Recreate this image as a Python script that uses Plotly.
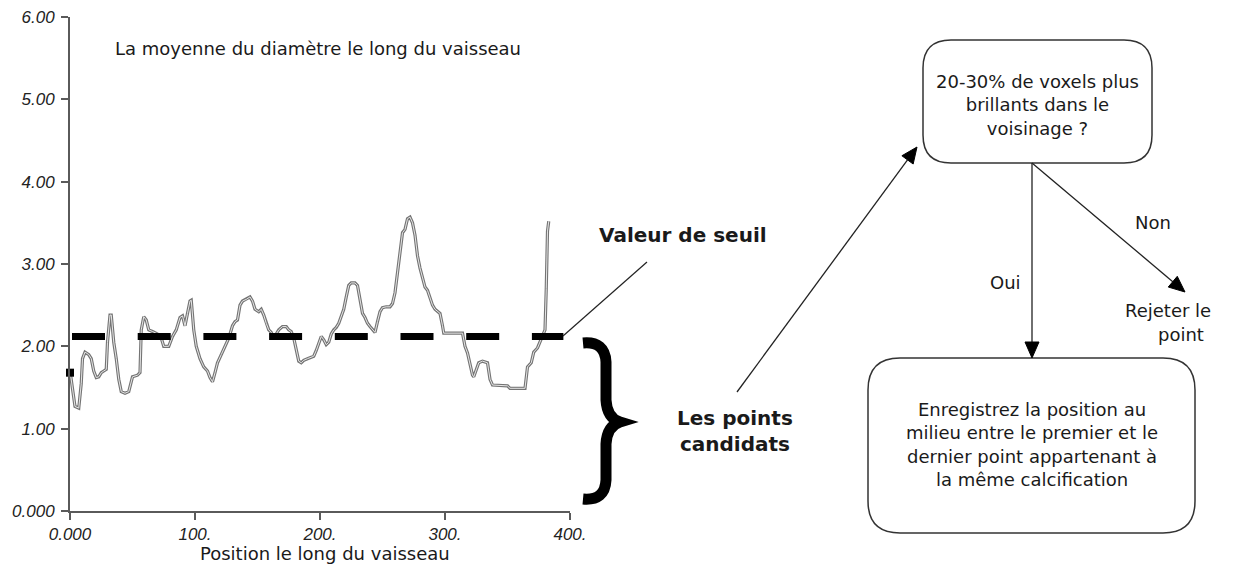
import plotly.graph_objects as go

# ---------------- data ----------------
position = [0, 2, 4, 7, 9, 10, 12, 15, 17, 19, 21, 23, 25, 27, 29, 30, 32, 33, 35, 37,
            39, 41, 44, 47, 49, 50, 54, 56, 57, 59, 61, 63, 66, 70, 73, 75, 79, 82, 85, 88,
            90, 92, 94, 96, 97, 99, 101, 104, 107, 110, 112, 114, 116, 118, 121, 124, 127, 130, 132, 134,
            136, 138, 141, 144, 146, 148, 151, 153, 155, 157, 159, 161, 163, 165, 167, 170, 173, 175, 177, 179,
            181, 183, 185, 187, 190, 193, 195, 197, 199, 201, 203, 205, 207, 209, 211, 213, 215, 217, 219, 221,
            223, 225, 228, 230, 232, 234, 236, 238, 240, 242, 244, 246, 248, 250, 253, 256, 258, 260, 262, 264,
            266, 268, 270, 272, 274, 276, 278, 280, 282, 284, 286, 288, 290, 292, 294, 296, 298, 299, 314, 316,
            318, 320, 322, 323, 325, 327, 330, 334, 336, 338, 350, 352, 364, 366, 369, 371, 374, 376, 378, 380,
            381, 382, 383]
diameter = [1.70, 1.50, 1.27, 1.25, 1.55, 1.85, 1.93, 1.90, 1.85, 1.70, 1.62, 1.63, 1.68, 1.70, 1.72, 2.05, 2.38, 2.38, 2.05, 1.85,
            1.60, 1.45, 1.43, 1.45, 1.55, 1.63, 1.65, 1.68, 2.20, 2.36, 2.32, 2.20, 2.18, 2.15, 2.10, 2.00, 2.00, 2.12, 2.20, 2.35,
            2.37, 2.25, 2.40, 2.55, 2.56, 2.20, 2.00, 1.85, 1.75, 1.70, 1.62, 1.57, 1.68, 1.80, 1.90, 2.00, 2.10, 2.25, 2.30, 2.32,
            2.50, 2.55, 2.57, 2.60, 2.55, 2.45, 2.42, 2.45, 2.38, 2.28, 2.20, 2.17, 2.10, 2.15, 2.20, 2.24, 2.24, 2.20, 2.18, 2.10,
            1.95, 1.82, 1.80, 1.83, 1.85, 1.87, 1.88, 1.95, 2.05, 2.12, 2.08, 2.02, 2.05, 2.15, 2.20, 2.23, 2.28, 2.38, 2.45, 2.60,
            2.74, 2.77, 2.77, 2.74, 2.55, 2.40, 2.35, 2.28, 2.24, 2.20, 2.17, 2.30, 2.42, 2.47, 2.48, 2.48, 2.52, 2.65, 2.90, 3.15,
            3.38, 3.42, 3.55, 3.57, 3.50, 3.35, 3.10, 2.95, 2.85, 2.72, 2.68, 2.60, 2.50, 2.45, 2.42, 2.40, 2.25, 2.16, 2.16, 2.00,
            1.92, 1.80, 1.65, 1.63, 1.72, 1.80, 1.82, 1.80, 1.60, 1.53, 1.52, 1.49, 1.49, 1.75, 1.80, 1.93, 1.98, 2.05, 2.12, 2.20,
            2.70, 3.40, 3.52]
start_point = [0, 1.68]
threshold_value = 2.12
threshold_span = [1.6, 394.7]

x_tick_values = [0, 100, 200, 300, 400]
x_tick_labels = ["0.000", "100.", "200.", "300.", "400."]
y_tick_values = [0, 1, 2, 3, 4, 5, 6]
y_tick_labels = ["0.000", "1.00", "2.00", "3.00", "4.00", "5.00", "6.00"]

chart_title = "La moyenne du diamètre le long du vaisseau"
x_title = "Position le long du vaisseau"
threshold_label = "Valeur de seuil"
candidates_label = "Les points<br>candidats"
question_text = "20-30% de voxels plus<br>brillants dans le<br>voisinage ?"
yes_text = "Oui"
no_text = "Non"
reject_lines = ["Rejeter le", "point"]
record_text = "Enregistrez la position au<br>milieu entre le premier et le<br>dernier point appartenant à<br>la même calcification"

# ---------------- layout geometry (pixels) ----------------
W, H = 1239, 566
PL, PR, PT, PB = 70, 570, 17, 511
TXT = "DejaVu Sans"
INK = "#1a1a1a"

fig = go.Figure()

# series: grey outlined line
fig.add_trace(go.Scatter(x=position, y=diameter, mode="lines",
                         line=dict(color="#747474", width=3.2), hoverinfo="skip", showlegend=False))
fig.add_trace(go.Scatter(x=position, y=diameter, mode="lines",
                         line=dict(color="#e6e6e6", width=1.0), hoverinfo="skip", showlegend=False))
# threshold dashed line
fig.add_trace(go.Scatter(x=threshold_span, y=[threshold_value, threshold_value], mode="lines",
                         line=dict(color="black", width=7, dash="33px,32.7px"),
                         hoverinfo="skip", showlegend=False))
# starting marker
fig.add_trace(go.Scatter(x=[start_point[0]], y=[start_point[1]], mode="markers",
                         marker=dict(symbol="square", size=8, color="black"),
                         cliponaxis=False, hoverinfo="skip", showlegend=False))
# dummy trace on pixel overlay axes
fig.add_trace(go.Scatter(x=[0], y=[0], xaxis="x2", yaxis="y2", mode="markers",
                         marker=dict(opacity=0), hoverinfo="skip", showlegend=False))

axis_common = dict(showline=True, linecolor="#5a5a5a", linewidth=2, ticks="outside", ticklen=7,
                   tickwidth=2, tickcolor="#5a5a5a", showgrid=False, zeroline=False, automargin=False,
                   tickfont=dict(family="Liberation Sans", size=17, color="#222", style="italic"))

fig.update_layout(
    template="none",
    width=W, height=H, margin=dict(l=0, r=0, t=0, b=0, autoexpand=False),
    paper_bgcolor="white", plot_bgcolor="rgba(0,0,0,0)",
    xaxis=dict(domain=[PL / W, PR / W], range=[0, 400], tickvals=x_tick_values, ticktext=x_tick_labels,
               anchor="y", **axis_common),
    yaxis=dict(domain=[1 - PB / H, 1 - PT / H], range=[0, 6], tickvals=y_tick_values, ticktext=y_tick_labels,
               anchor="x", ticklabelstandoff=3, **axis_common),
    xaxis2=dict(domain=[0, 1], range=[0, W], visible=False, anchor="y2", automargin=False),
    yaxis2=dict(domain=[0, 1], range=[H, 0], visible=False, anchor="x2", automargin=False),
)

shapes = []


def px_line(x0, y0, x1, y1, width=1.2, color="#222"):
    shapes.append(dict(type="line", xref="x2", yref="y2", x0=x0, y0=y0, x1=x1, y1=y1,
                       line=dict(color=color, width=width), layer="above"))


def arrow(x0, y0, x1, y1, head_len=16, head_half=7, width=1.3):
    dx, dy = x1 - x0, y1 - y0
    n = (dx * dx + dy * dy) ** 0.5
    ux, uy = dx / n, dy / n
    bx, by = x1 - ux * head_len, y1 - uy * head_len
    px_line(x0, y0, bx, by, width=width)
    p1 = (bx - uy * head_half, by + ux * head_half)
    p2 = (bx + uy * head_half, by - ux * head_half)
    shapes.append(dict(type="path", xref="x2", yref="y2",
                       path=f"M {x1},{y1} L {p1[0]},{p1[1]} L {p2[0]},{p2[1]} Z",
                       fillcolor="black", line=dict(color="black", width=1), layer="above"))


def rrect(x0, y0, x1, y1, r):
    p = (f"M {x0 + r},{y0} L {x1 - r},{y0} Q {x1},{y0} {x1},{y0 + r} L {x1},{y1 - r} "
         f"Q {x1},{y1} {x1 - r},{y1} L {x0 + r},{y1} Q {x0},{y1} {x0},{y1 - r} "
         f"L {x0},{y0 + r} Q {x0},{y0} {x0 + r},{y0} Z")
    shapes.append(dict(type="path", xref="x2", yref="y2", path=p,
                       line=dict(color="#333", width=1.5), fillcolor="rgba(0,0,0,0)", layer="above"))


# pointer from threshold line to its label
px_line(563, 336, 647, 262, width=1.2)
# big brace
shapes.append(dict(type="path", xref="x2", yref="y2",
                   path=("M 583,343 Q 605,341 606,362 L 606,400 Q 607,418 620,422 "
                         "Q 607,426 606,444 L 606,480 Q 605,501 583,499"),
                   line=dict(color="black", width=11), fillcolor="rgba(0,0,0,0)", layer="above"))
# flowchart boxes
rrect(923, 40, 1152, 163, 28)
rrect(868, 358, 1195, 533, 32)
# arrows
arrow(737, 392, 917, 147)
arrow(1032, 163, 1032, 358)
arrow(1032, 163, 1185, 292)

fig.update_layout(shapes=shapes)

ann = []


def text(x, y, s, size=18, bold=False, xanchor="center"):
    ann.append(dict(xref="x2", yref="y2", x=x, y=y, text=s, showarrow=False, xanchor=xanchor,
                    yanchor="middle", align="center",
                    font=dict(family=TXT, size=size, color=INK, weight="bold" if bold else "normal")))


text(113, 48, chart_title, xanchor="left")
text(325, 553, x_title)
text(683, 235, threshold_label, size=20, bold=True)
text(735, 431, candidates_label, size=20, bold=True)
text(1037, 105, question_text)
text(1005, 282, yes_text)
text(1153, 222, no_text)
text(1168, 310, reject_lines[0])
text(1181, 334, reject_lines[1])
text(1032, 444, record_text)

fig.update_layout(annotations=ann)

fig.write_html("out.html", config={"displayModeBar": False, "staticPlot": True},
               post_script="document.body.style.margin='0';document.body.style.overflow='hidden';")
